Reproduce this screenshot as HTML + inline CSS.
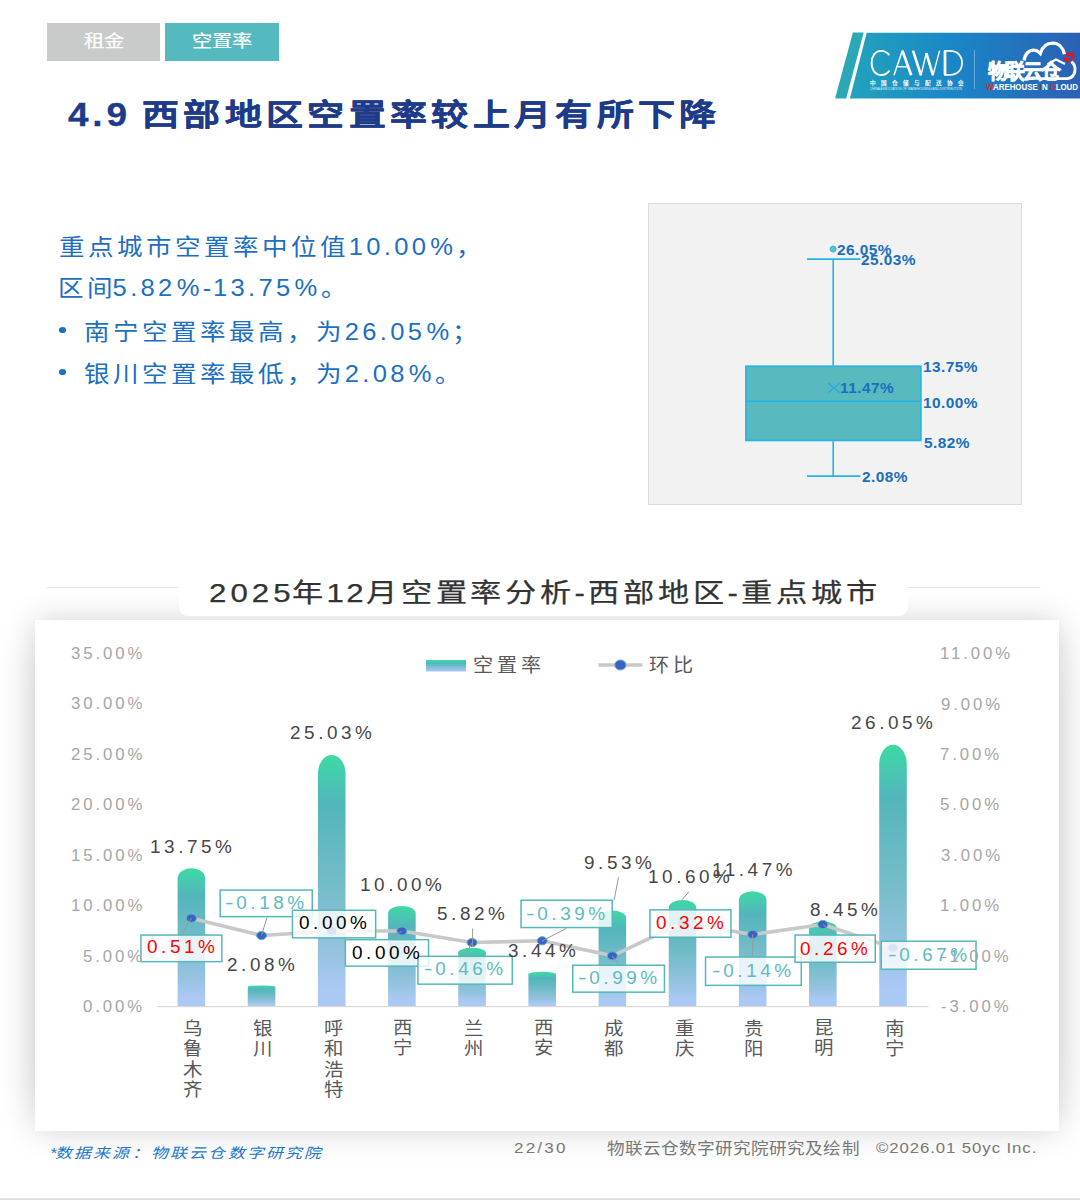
<!DOCTYPE html>
<html lang="zh-CN"><head><meta charset="utf-8">
<style>
*{margin:0;padding:0;box-sizing:border-box}
html,body{width:1080px;height:1200px;overflow:hidden;background:#fff}
body{position:relative;font-family:"Liberation Sans",sans-serif}
.a{position:absolute;white-space:nowrap;transform-origin:0 0}
svg{position:absolute;left:0;top:0}
</style></head><body>
<div class="a" style="left:47px;top:23px;width:113.4px;height:37.8px;background:#c9caca"></div>
<div class="a" style="left:165px;top:23px;width:114px;height:37.8px;background:#55babf"></div>
<div class="a" style="left:648px;top:203px;width:374px;height:302px;background:#f2f2f2;border:1px solid #dcdcdc"></div>
<div class="a" style="left:47px;top:587.2px;width:993px;height:1px;background:#e3e3e3"></div>
<div class="a" style="left:35px;top:650px;width:1024px;height:450px;box-shadow:0 0 44px rgba(0,0,0,0.09)"></div>
<div class="a" style="left:35px;top:620.3px;width:1024px;height:511px;background:#fff;box-shadow:0 0 30px rgba(0,0,0,0.17)"></div>
<div class="a" style="left:179px;top:555px;width:729.3px;height:60.7px;background:#fff;border-radius:0 0 9px 9px"></div>
<div class="a" style="left:59.2px;top:327.2px;width:7.1px;height:5.7px;border-radius:50%;background:#1c6fc1"></div>
<div class="a" style="left:59.2px;top:369.2px;width:7.1px;height:5.7px;border-radius:50%;background:#1c6fc1"></div>
<div class="a" style="left:0;top:1198px;width:1080px;height:2px;background:linear-gradient(#e8e8e8,#d8d8d8)"></div>
<svg width="1080" height="1200" viewBox="0 0 1080 1200">
<defs>
<linearGradient id="bg" x1="0" y1="0" x2="0" y2="1">
<stop offset="0" stop-color="#3cdaa5"/><stop offset="0.2" stop-color="#53b5bc"/><stop offset="0.5" stop-color="#72bcc8"/><stop offset="0.8" stop-color="#97c3e2"/><stop offset="0.93" stop-color="#aac9f4"/><stop offset="1" stop-color="#abc9f5"/>
</linearGradient>
<linearGradient id="lg" x1="0" y1="0" x2="0" y2="1">
<stop offset="0" stop-color="#3ddba6"/><stop offset="0.3" stop-color="#54b6bd"/><stop offset="1" stop-color="#abc9f5"/>
</linearGradient>
<linearGradient id="logo" x1="0" y1="0" x2="1" y2="0">
<stop offset="0" stop-color="#22a3bd"/><stop offset="0.45" stop-color="#1a86c7"/><stop offset="1" stop-color="#2b60b4"/>
</linearGradient>
</defs>
<path d="M177.60,1006.30 L177.60,878.60 A13.80,10.35 0 0 1 205.20,878.60 L205.20,1006.30 Z" fill="url(#bg)"/>
<path d="M247.76,1006.30 L247.76,986.98 A13.80,1.57 0 0 1 275.36,986.98 L275.36,1006.30 Z" fill="url(#bg)"/>
<path d="M317.92,1006.30 L317.92,773.85 A13.80,18.85 0 0 1 345.52,773.85 L345.52,1006.30 Z" fill="url(#bg)"/>
<path d="M388.08,1006.30 L388.08,913.43 A13.80,7.53 0 0 1 415.68,913.43 L415.68,1006.30 Z" fill="url(#bg)"/>
<path d="M458.24,1006.30 L458.24,952.25 A13.80,4.38 0 0 1 485.84,952.25 L485.84,1006.30 Z" fill="url(#bg)"/>
<path d="M528.40,1006.30 L528.40,974.35 A13.80,2.59 0 0 1 556.00,974.35 L556.00,1006.30 Z" fill="url(#bg)"/>
<path d="M598.56,1006.30 L598.56,917.79 A13.80,7.18 0 0 1 626.16,917.79 L626.16,1006.30 Z" fill="url(#bg)"/>
<path d="M668.72,1006.30 L668.72,907.86 A13.80,7.98 0 0 1 696.32,907.86 L696.32,1006.30 Z" fill="url(#bg)"/>
<path d="M738.88,1006.30 L738.88,899.78 A13.80,8.64 0 0 1 766.48,899.78 L766.48,1006.30 Z" fill="url(#bg)"/>
<path d="M809.04,1006.30 L809.04,927.82 A13.80,6.36 0 0 1 836.64,927.82 L836.64,1006.30 Z" fill="url(#bg)"/>
<path d="M879.20,1006.30 L879.20,764.37 A13.80,19.62 0 0 1 906.80,764.37 L906.80,1006.30 Z" fill="url(#bg)"/>
<rect x="156.9" y="1006" width="771.5" height="1.2" fill="#d9d9d9"/>
<polyline points="191.40,918.20 261.56,935.52 331.72,931.00 401.88,931.00 472.04,942.55 542.20,940.79 612.36,955.85 682.52,922.97 752.68,934.51 822.84,924.47 893.00,947.82" fill="none" stroke="#c8c8c8" stroke-width="3.6" stroke-linejoin="round"/>
<ellipse cx="191.40" cy="918.20" rx="5" ry="4.1" fill="#3d5fc6" stroke="#55b8c0" stroke-width="1"/>
<ellipse cx="261.56" cy="935.52" rx="5" ry="4.1" fill="#3d5fc6" stroke="#55b8c0" stroke-width="1"/>
<ellipse cx="331.72" cy="931.00" rx="5" ry="4.1" fill="#3d5fc6" stroke="#55b8c0" stroke-width="1"/>
<ellipse cx="401.88" cy="931.00" rx="5" ry="4.1" fill="#3d5fc6" stroke="#55b8c0" stroke-width="1"/>
<ellipse cx="472.04" cy="942.55" rx="5" ry="4.1" fill="#3d5fc6" stroke="#55b8c0" stroke-width="1"/>
<ellipse cx="542.20" cy="940.79" rx="5" ry="4.1" fill="#3d5fc6" stroke="#55b8c0" stroke-width="1"/>
<ellipse cx="612.36" cy="955.85" rx="5" ry="4.1" fill="#3d5fc6" stroke="#55b8c0" stroke-width="1"/>
<ellipse cx="682.52" cy="922.97" rx="5" ry="4.1" fill="#3d5fc6" stroke="#55b8c0" stroke-width="1"/>
<ellipse cx="752.68" cy="934.51" rx="5" ry="4.1" fill="#3d5fc6" stroke="#55b8c0" stroke-width="1"/>
<ellipse cx="822.84" cy="924.47" rx="5" ry="4.1" fill="#3d5fc6" stroke="#55b8c0" stroke-width="1"/>
<ellipse cx="893.00" cy="947.82" rx="5" ry="4.1" fill="#3d5fc6" stroke="#55b8c0" stroke-width="1"/>
<line x1="191.5" y1="918" x2="181.9" y2="934.3" stroke="#999" stroke-width="1"/>
<line x1="261.5" y1="935.6" x2="267" y2="917.4" stroke="#999" stroke-width="1"/>
<line x1="401.8" y1="931.2" x2="389.7" y2="938.9" stroke="#999" stroke-width="1"/>
<line x1="472.6" y1="928.6" x2="472.6" y2="946" stroke="#999" stroke-width="1"/>
<line x1="472" y1="943" x2="465.9" y2="954.3" stroke="#999" stroke-width="1"/>
<line x1="541.9" y1="941.1" x2="566.5" y2="928.3" stroke="#999" stroke-width="1"/>
<line x1="618.5" y1="877.3" x2="614.1" y2="900.2" stroke="#999" stroke-width="1"/>
<line x1="612.2" y1="956" x2="618.2" y2="963.3" stroke="#999" stroke-width="1"/>
<line x1="688.9" y1="891.8" x2="681.8" y2="899.9" stroke="#999" stroke-width="1"/>
<line x1="752.6" y1="934.5" x2="752.6" y2="955.9" stroke="#999" stroke-width="1"/>
<line x1="822.9" y1="924.4" x2="833.5" y2="933.5" stroke="#999" stroke-width="1"/>
<rect x="140.95" y="935.05" width="80.90" height="26.60" fill="rgba(255,255,255,0.82)" stroke="#56b7bb" stroke-width="1.5"/>
<rect x="220.15" y="890.05" width="92.10" height="26.60" fill="rgba(255,255,255,0.82)" stroke="#56b7bb" stroke-width="1.5"/>
<rect x="292.45" y="910.25" width="83.20" height="27.60" fill="rgba(255,255,255,0.82)" stroke="#56b7bb" stroke-width="1.5"/>
<rect x="345.35" y="939.65" width="83.20" height="26.50" fill="rgba(255,255,255,0.82)" stroke="#56b7bb" stroke-width="1.5"/>
<rect x="417.95" y="956.35" width="94.30" height="27.80" fill="rgba(255,255,255,0.82)" stroke="#56b7bb" stroke-width="1.5"/>
<rect x="521.05" y="900.25" width="91.20" height="27.30" fill="rgba(255,255,255,0.82)" stroke="#56b7bb" stroke-width="1.5"/>
<rect x="572.75" y="965.25" width="91.70" height="26.90" fill="rgba(255,255,255,0.82)" stroke="#56b7bb" stroke-width="1.5"/>
<rect x="649.95" y="909.85" width="81.00" height="27.40" fill="rgba(255,255,255,0.82)" stroke="#56b7bb" stroke-width="1.5"/>
<rect x="705.55" y="957.05" width="95.70" height="28.30" fill="rgba(255,255,255,0.82)" stroke="#56b7bb" stroke-width="1.5"/>
<rect x="795.05" y="935.05" width="80.20" height="27.20" fill="rgba(255,255,255,0.82)" stroke="#56b7bb" stroke-width="1.5"/>
<rect x="881.25" y="941.25" width="94.80" height="28.00" fill="rgba(255,255,255,0.82)" stroke="#56b7bb" stroke-width="1.5"/>
<rect x="426" y="660" width="40" height="11.5" fill="url(#lg)"/>
<line x1="598.4" y1="665" x2="642.4" y2="665" stroke="#c8c8c8" stroke-width="3.6"/>
<ellipse cx="620.4" cy="665" rx="5.6" ry="5" fill="#3d5fc6" stroke="#55b8c0" stroke-width="1"/>
<line x1="833.2" y1="259.1" x2="833.2" y2="365.4" stroke="#22b4e6" stroke-width="1.6"/>
<line x1="833.2" y1="441.3" x2="833.2" y2="476.1" stroke="#22b4e6" stroke-width="1.6"/>
<line x1="807" y1="259.1" x2="860.4" y2="259.1" stroke="#22b4e6" stroke-width="1.6"/>
<line x1="807" y1="476.1" x2="860.4" y2="476.1" stroke="#22b4e6" stroke-width="1.6"/>
<rect x="745.9" y="366.2" width="175" height="74.3" fill="#58babf" stroke="#22b4e6" stroke-width="1.6"/>
<line x1="745.9" y1="401.3" x2="920.9" y2="401.3" stroke="#22b4e6" stroke-width="1.6"/>
<path d="M828.5,383.2 L839.5,392.5 M839.5,383.2 L828.5,392.5" stroke="#2aa6e0" stroke-width="1.4"/>
<circle cx="833.1" cy="249.1" r="3" fill="#5bc4d0" stroke="#2ab8e6" stroke-width="1"/>
<polygon points="852.9,32.6 863.7,32.6 846.2,98.4 835.1,98.4" fill="#2ba8b6"/>
<polygon points="866.7,32.8 1080,32.8 1080,98.4 849.9,98.4" fill="url(#logo)"/>
<g fill="none" stroke="#fff" stroke-linecap="butt"><path d="M889.3,55.2 C886.5,51.6 883.5,50.9 881.2,50.9 C875.2,50.9 871.6,56.3 871.6,63 C871.6,69.8 875.4,75 881.4,75 C884.6,75 887.3,73.6 889.5,70.6" stroke-width="1.88"/><path d="M894,75.3 L902.4,50.6" stroke-width="1.50"/><path d="M902.4,50.6 L911.2,75.3" stroke-width="2.75"/><path d="M897.5,66.8 L907.8,66.8" stroke-width="1.38"/><path d="M913,50.6 L921,75.3" stroke-width="2.62"/><path d="M921,75.3 L926.3,53" stroke-width="1.38"/><path d="M926.3,53 L933,75.3" stroke-width="2.62"/><path d="M933,75.3 L939.6,50.6" stroke-width="1.38"/><path d="M945,50.9 L945,74.8" stroke-width="2.75"/><path d="M944,50.9 L950,50.9 C957.8,50.9 962,56.2 962,62.9 C962,69.6 957.8,74.8 950,74.8 L944,74.8" stroke-width="1.75"/></g>
<text x="869.9" y="85.3" font-size="5.6" font-weight="bold" fill="#fff" letter-spacing="5.0" style="font-family:'Liberation Sans',sans-serif">中国仓储与配送协会</text>
<text x="870" y="89.5" font-size="3.4" fill="#fff" opacity="0.85" textLength="92" lengthAdjust="spacingAndGlyphs" style="font-family:'Liberation Sans',sans-serif">CHINA ASSOCIATION OF WAREHOUSING AND DISTRIBUTION</text>
<line x1="974.4" y1="50" x2="974.4" y2="89" stroke="#fff" stroke-opacity="0.45" stroke-width="0.8"/>
<path d="M1024.2,60.5 C1024.8,54 1029,49.8 1034,50.2 C1036.5,50.4 1038.6,51.6 1040.3,53.4 C1042.5,46.6 1047.3,43.2 1052.6,43.2 C1058.6,43.2 1063.2,47.6 1064.4,54.2" fill="none" stroke="#fff" stroke-width="3.3"/>
<path d="M1071.4,61.6 C1074.6,64 1075.6,67.8 1074.8,71.6 C1074,75.4 1071.4,78 1067.5,78.6 L1040,78.6" fill="none" stroke="#fff" stroke-width="2.9"/>
<path d="M1047.5,64.2 L1056,59.6 L1065,64" fill="none" stroke="#fff" stroke-width="2.2"/>
<path d="M1066,54.6 L1072.6,54.6 L1072.6,60.2" fill="none" stroke="#e8141e" stroke-width="3.2"/>
<path d="M1063.3,59.3 L1068.2,59.3 L1068.2,63.3" fill="none" stroke="#e8141e" stroke-width="2.6"/>
<text x="987.6" y="79.4" font-size="19.8" font-weight="bold" fill="#fff" stroke="#fff" stroke-width="0.7" letter-spacing="-1.6" transform="translate(987.6,79.4) scale(1,1.05) translate(-987.6,-79.4)" style="font-family:'Liberation Sans',sans-serif">物联云仓</text>
<text x="986" y="89.7" font-size="9.2" font-weight="bold" fill="#fff" textLength="92" lengthAdjust="spacingAndGlyphs" style="font-family:'Liberation Sans',sans-serif"><tspan fill="#e3262d">W</tspan>AREHOUSE <tspan fill="#e3262d">I</tspan>N <tspan fill="#e3262d">C</tspan>LOUD</text>
</svg>
<div class="a" style="left:83.8px;top:30.2px;font-size:17.4px;font-weight:normal;letter-spacing:0.3px;line-height:22px;transform:scaleX(1.17);-webkit-text-stroke:0.15px #fff;color:#fff;">租金</div>
<div class="a" style="left:191.9px;top:30.2px;font-size:17.4px;font-weight:normal;letter-spacing:0.3px;line-height:22px;transform:scaleX(1.17);-webkit-text-stroke:0.15px #fff;color:#fff;">空置率</div>
<div class="a" style="left:68.0px;top:94.5px;font-size:33px;font-weight:bold;letter-spacing:3.4px;line-height:40px;transform:scaleX(1.12);-webkit-text-stroke:0.3px #1e3b89;color:#1e3b89;">4.9</div>
<div class="a" style="left:141.8px;top:94.9px;font-size:30px;font-weight:bold;letter-spacing:3.6px;line-height:40px;transform:scaleX(1.23);-webkit-text-stroke:0.3px #1e3b89;color:#1e3b89;">西部地区空置率较上月有所下降</div>
<div class="a" style="left:58.6px;top:232.4px;font-size:23px;letter-spacing:3.1px;line-height:30px;transform:scaleX(1.11);color:#1c6fc1;">重点城市空置率中位值<span style="letter-spacing:3.0px">10.00<span style="margin-left:1px">%</span></span>，</div>
<div class="a" style="left:58.0px;top:273.2px;font-size:23px;letter-spacing:3.1px;line-height:30px;transform:scaleX(1.11);color:#1c6fc1;">区间<span style="letter-spacing:3.0px;margin-left:-3px">5.82<span style="margin-left:1px">%</span><span style="letter-spacing:1.5px">-</span>13.75<span style="margin-left:1px">%</span></span>。</div>
<div class="a" style="left:84.1px;top:317.0px;font-size:23px;letter-spacing:3.1px;line-height:30px;transform:scaleX(1.11);color:#1c6fc1;">南宁空置率最高，为<span style="letter-spacing:3.0px">26.05<span style="margin-left:1px">%</span></span>；</div>
<div class="a" style="left:84.1px;top:359.2px;font-size:23px;letter-spacing:3.1px;line-height:30px;transform:scaleX(1.11);color:#1c6fc1;">银川空置率最低，为<span style="letter-spacing:3.0px">2.08<span style="margin-left:1px">%</span></span>。</div>
<div class="a" style="left:208.8px;top:576.4px;font-size:26px;letter-spacing:2.95px;line-height:34px;transform:scaleX(1.2);-webkit-text-stroke:0.25px #333;color:#333;"><span style="letter-spacing:3.4px">202</span><span style="letter-spacing:0.8px">5</span>年<span style="letter-spacing:2.1px">12</span>月空置率分析-西部地区-重点城市</div>
<div class="a" style="left:49.8px;top:1143.1px;font-size:14px;font-style:italic;letter-spacing:2.0px;line-height:20px;transform:scaleX(1.2);color:#2276c8;"><span style="letter-spacing:-1.5px">*</span>数据来源：物联云仓数字研究院</div>
<div class="a" style="left:514.0px;top:1138.3px;font-size:15.5px;letter-spacing:2.0px;line-height:20px;transform:scaleX(1.1);color:#777;">22/30</div>
<div class="a" style="left:606.7px;top:1138.7px;font-size:16px;letter-spacing:0.4px;line-height:20px;transform:scaleX(1.1);color:#777;">物联云仓数字研究院研究及绘制</div>
<div class="a" style="left:876.2px;top:1138.0px;font-size:15.5px;letter-spacing:0.86px;line-height:20px;transform:scaleX(1.08);color:#777;">©2026.01 50yc Inc.</div>
<div class="a" style="left:83.0px;top:997.1px;font-size:15.8px;letter-spacing:2.75px;line-height:20px;transform:scaleX(1.06);color:#a6a6a6;">0.00%</div>
<div class="a" style="left:83.0px;top:946.6px;font-size:15.8px;letter-spacing:2.75px;line-height:20px;transform:scaleX(1.06);color:#a6a6a6;">5.00%</div>
<div class="a" style="left:71.0px;top:896.2px;font-size:15.8px;letter-spacing:2.75px;line-height:20px;transform:scaleX(1.06);color:#a6a6a6;">10.00%</div>
<div class="a" style="left:71.0px;top:845.8px;font-size:15.8px;letter-spacing:2.75px;line-height:20px;transform:scaleX(1.06);color:#a6a6a6;">15.00%</div>
<div class="a" style="left:71.0px;top:795.3px;font-size:15.8px;letter-spacing:2.75px;line-height:20px;transform:scaleX(1.06);color:#a6a6a6;">20.00%</div>
<div class="a" style="left:71.0px;top:744.9px;font-size:15.8px;letter-spacing:2.75px;line-height:20px;transform:scaleX(1.06);color:#a6a6a6;">25.00%</div>
<div class="a" style="left:71.0px;top:694.4px;font-size:15.8px;letter-spacing:2.75px;line-height:20px;transform:scaleX(1.06);color:#a6a6a6;">30.00%</div>
<div class="a" style="left:71.0px;top:644.0px;font-size:15.8px;letter-spacing:2.75px;line-height:20px;transform:scaleX(1.06);color:#a6a6a6;">35.00%</div>
<div class="a" style="left:940.7px;top:997.0px;font-size:15.8px;letter-spacing:2.75px;line-height:20px;transform:scaleX(1.06);color:#a6a6a6;">-3.00%</div>
<div class="a" style="left:940.7px;top:946.6px;font-size:15.8px;letter-spacing:2.75px;line-height:20px;transform:scaleX(1.06);color:#a6a6a6;">-1.00%</div>
<div class="a" style="left:940.3px;top:896.2px;font-size:15.8px;letter-spacing:2.75px;line-height:20px;transform:scaleX(1.06);color:#a6a6a6;">1.00%</div>
<div class="a" style="left:941.3px;top:845.8px;font-size:15.8px;letter-spacing:2.75px;line-height:20px;transform:scaleX(1.06);color:#a6a6a6;">3.00%</div>
<div class="a" style="left:940.3px;top:795.4px;font-size:15.8px;letter-spacing:2.75px;line-height:20px;transform:scaleX(1.06);color:#a6a6a6;">5.00%</div>
<div class="a" style="left:940.3px;top:744.9px;font-size:15.8px;letter-spacing:2.75px;line-height:20px;transform:scaleX(1.06);color:#a6a6a6;">7.00%</div>
<div class="a" style="left:941.3px;top:694.5px;font-size:15.8px;letter-spacing:2.75px;line-height:20px;transform:scaleX(1.06);color:#a6a6a6;">9.00%</div>
<div class="a" style="left:940.3px;top:644.1px;font-size:15.8px;letter-spacing:2.75px;line-height:20px;transform:scaleX(1.06);color:#a6a6a6;">11.00%</div>
<div class="a" style="left:472.9px;top:655.2px;font-size:19px;letter-spacing:3.5px;line-height:22px;transform:scaleX(1.06);color:#595959;">空置率</div>
<div class="a" style="left:648.6px;top:655.2px;font-size:19px;letter-spacing:3.5px;line-height:22px;transform:scaleX(1.06);color:#595959;">环比</div>
<div class="a" style="left:182.9px;top:1019.4px;font-size:18px;line-height:20.1px;text-align:center;transform:scaleX(1.08);color:#595959;">乌<br>鲁<br>木<br>齐</div>
<div class="a" style="left:253.1px;top:1019.4px;font-size:18px;line-height:20.1px;text-align:center;transform:scaleX(1.08);color:#595959;">银<br>川</div>
<div class="a" style="left:323.7px;top:1019.4px;font-size:18px;line-height:20.1px;text-align:center;transform:scaleX(1.08);color:#595959;">呼<br>和<br>浩<br>特</div>
<div class="a" style="left:393.4px;top:1018.4px;font-size:18px;line-height:20.1px;text-align:center;transform:scaleX(1.08);color:#595959;">西<br>宁</div>
<div class="a" style="left:463.5px;top:1019.4px;font-size:18px;line-height:20.1px;text-align:center;transform:scaleX(1.08);color:#595959;">兰<br>州</div>
<div class="a" style="left:533.7px;top:1018.4px;font-size:18px;line-height:20.1px;text-align:center;transform:scaleX(1.08);color:#595959;">西<br>安</div>
<div class="a" style="left:604.4px;top:1019.4px;font-size:18px;line-height:20.1px;text-align:center;transform:scaleX(1.08);color:#595959;">成<br>都</div>
<div class="a" style="left:674.5px;top:1019.4px;font-size:18px;line-height:20.1px;text-align:center;transform:scaleX(1.08);color:#595959;">重<br>庆</div>
<div class="a" style="left:744.2px;top:1019.4px;font-size:18px;line-height:20.1px;text-align:center;transform:scaleX(1.08);color:#595959;">贵<br>阳</div>
<div class="a" style="left:814.3px;top:1018.4px;font-size:18px;line-height:20.1px;text-align:center;transform:scaleX(1.08);color:#595959;">昆<br>明</div>
<div class="a" style="left:884.5px;top:1019.4px;font-size:18px;line-height:20.1px;text-align:center;transform:scaleX(1.08);color:#595959;">南<br>宁</div>
<div class="a" style="left:149.7px;top:837.2px;font-size:17.5px;letter-spacing:3.3px;line-height:20px;transform:scaleX(1.08);color:#474747;">13.75%</div>
<div class="a" style="left:226.5px;top:954.5px;font-size:17.5px;letter-spacing:3.3px;line-height:20px;transform:scaleX(1.08);color:#474747;">2.08%</div>
<div class="a" style="left:289.8px;top:723.4px;font-size:17.5px;letter-spacing:3.3px;line-height:20px;transform:scaleX(1.08);color:#474747;">25.03%</div>
<div class="a" style="left:360.1px;top:874.5px;font-size:17.5px;letter-spacing:3.3px;line-height:20px;transform:scaleX(1.08);color:#474747;">10.00%</div>
<div class="a" style="left:437.4px;top:903.5px;font-size:17.5px;letter-spacing:3.3px;line-height:20px;transform:scaleX(1.08);color:#474747;">5.82%</div>
<div class="a" style="left:507.7px;top:941.2px;font-size:17.5px;letter-spacing:3.3px;line-height:20px;transform:scaleX(1.08);color:#474747;">3.44%</div>
<div class="a" style="left:583.6px;top:853.1px;font-size:17.5px;letter-spacing:3.3px;line-height:20px;transform:scaleX(1.08);color:#474747;">9.53%</div>
<div class="a" style="left:647.6px;top:866.5px;font-size:17.5px;letter-spacing:3.3px;line-height:20px;transform:scaleX(1.08);color:#474747;">10.60%</div>
<div class="a" style="left:711.5px;top:859.5px;font-size:17.5px;letter-spacing:3.3px;line-height:20px;transform:scaleX(1.08);color:#474747;">11.47%</div>
<div class="a" style="left:809.8px;top:900.1px;font-size:17.5px;letter-spacing:3.3px;line-height:20px;transform:scaleX(1.08);color:#474747;">8.45%</div>
<div class="a" style="left:851.0px;top:713.1px;font-size:17.5px;letter-spacing:3.3px;line-height:20px;transform:scaleX(1.08);color:#474747;">26.05%</div>
<div class="a" style="left:146.7px;top:937.4px;font-size:17.5px;letter-spacing:3.3px;line-height:20px;transform:scaleX(1.08);color:#ff0000;">0.51%</div>
<div class="a" style="left:225.1px;top:892.5px;font-size:17.5px;letter-spacing:3.3px;line-height:20px;transform:scaleX(1.08);color:#5bbcc0;"><span style="display:inline-block;transform:scaleX(1.35);transform-origin:0 50%;letter-spacing:0;margin-right:4.6px">-</span>0.18%</div>
<div class="a" style="left:299.0px;top:913.1px;font-size:17.5px;letter-spacing:3.3px;line-height:20px;transform:scaleX(1.08);color:#000;">0.00%</div>
<div class="a" style="left:351.9px;top:942.5px;font-size:17.5px;letter-spacing:3.3px;line-height:20px;transform:scaleX(1.08);color:#000;">0.00%</div>
<div class="a" style="left:424.2px;top:959.0px;font-size:17.5px;letter-spacing:3.3px;line-height:20px;transform:scaleX(1.08);color:#5bbcc0;"><span style="display:inline-block;transform:scaleX(1.35);transform-origin:0 50%;letter-spacing:0;margin-right:4.6px">-</span>0.46%</div>
<div class="a" style="left:526.0px;top:903.5px;font-size:17.5px;letter-spacing:3.3px;line-height:20px;transform:scaleX(1.08);color:#5bbcc0;"><span style="display:inline-block;transform:scaleX(1.35);transform-origin:0 50%;letter-spacing:0;margin-right:4.6px">-</span>0.39%</div>
<div class="a" style="left:577.6px;top:967.7px;font-size:17.5px;letter-spacing:3.3px;line-height:20px;transform:scaleX(1.08);color:#5bbcc0;"><span style="display:inline-block;transform:scaleX(1.35);transform-origin:0 50%;letter-spacing:0;margin-right:4.6px">-</span>0.99%</div>
<div class="a" style="left:655.9px;top:913.4px;font-size:17.5px;letter-spacing:3.3px;line-height:20px;transform:scaleX(1.08);color:#ff0000;">0.32%</div>
<div class="a" style="left:712.3px;top:961.2px;font-size:17.5px;letter-spacing:3.3px;line-height:20px;transform:scaleX(1.08);color:#5bbcc0;"><span style="display:inline-block;transform:scaleX(1.35);transform-origin:0 50%;letter-spacing:0;margin-right:4.6px">-</span>0.14%</div>
<div class="a" style="left:800.0px;top:938.5px;font-size:17.5px;letter-spacing:3.3px;line-height:20px;transform:scaleX(1.08);color:#ff0000;">0.26%</div>
<div class="a" style="left:887.5px;top:945.3px;font-size:17.5px;letter-spacing:3.3px;line-height:20px;transform:scaleX(1.08);color:#5bbcc0;"><span style="display:inline-block;transform:scaleX(1.35);transform-origin:0 50%;letter-spacing:0;margin-right:4.6px">-</span>0.67%</div>
<div class="a" style="left:837.2px;top:242.3px;font-size:14px;font-weight:bold;letter-spacing:0.4px;line-height:16px;transform:scaleX(1.1);color:#1a6fc0;">26.05%</div>
<div class="a" style="left:861.3px;top:252.0px;font-size:14px;font-weight:bold;letter-spacing:0.4px;line-height:16px;transform:scaleX(1.1);color:#1a6fc0;">25.03%</div>
<div class="a" style="left:922.6px;top:359.1px;font-size:14px;font-weight:bold;letter-spacing:0.4px;line-height:16px;transform:scaleX(1.1);color:#1a6fc0;">13.75%</div>
<div class="a" style="left:840.4px;top:379.9px;font-size:14px;font-weight:bold;letter-spacing:0.4px;line-height:16px;transform:scaleX(1.1);color:#1a6fc0;">11.47%</div>
<div class="a" style="left:922.6px;top:395.1px;font-size:14px;font-weight:bold;letter-spacing:0.4px;line-height:16px;transform:scaleX(1.1);color:#1a6fc0;">10.00%</div>
<div class="a" style="left:923.6px;top:434.5px;font-size:14px;font-weight:bold;letter-spacing:0.4px;line-height:16px;transform:scaleX(1.1);color:#1a6fc0;">5.82%</div>
<div class="a" style="left:861.5px;top:468.9px;font-size:14px;font-weight:bold;letter-spacing:0.4px;line-height:16px;transform:scaleX(1.1);color:#1a6fc0;">2.08%</div>
</body></html>
